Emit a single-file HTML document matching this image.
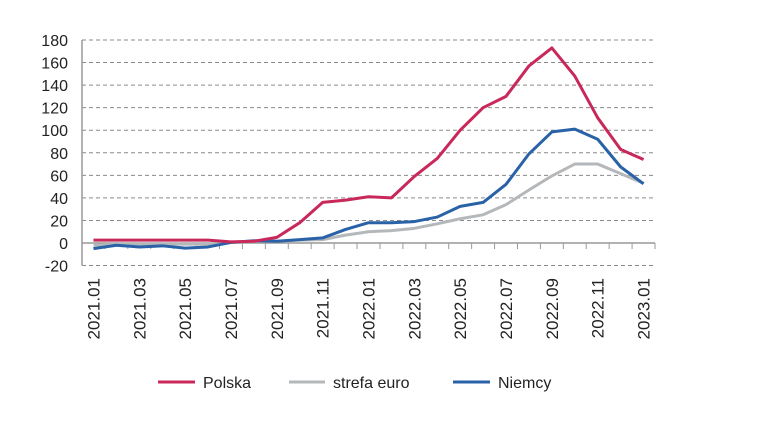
<!DOCTYPE html>
<html><head><meta charset="utf-8"><style>
body{margin:0;background:#fff;font-family:"Liberation Sans",Arial,sans-serif}
svg{display:block}
</style></head><body>
<svg id="chart" width="757" height="422">
<g id="grid"></g>
<g id="yl"></g>
<g id="xl"></g>
<g id="series"></g>
<g font-size="16" fill="#222">
<g><line x1="158" y1="382" x2="195" y2="382" stroke="#c8285a" stroke-width="3"/><text x="203" y="388">Polska</text></g>
<g><line x1="289" y1="382" x2="325" y2="382" stroke="#b5b8ba" stroke-width="3"/><text x="333" y="388">strefa euro</text></g>
<g><line x1="453" y1="382" x2="490" y2="382" stroke="#2a62a8" stroke-width="3"/><text x="498" y="388">Niemcy</text></g>
</g>
</svg>
<script>
const categories=["2021.01","2021.02","2021.03","2021.04","2021.05","2021.06","2021.07","2021.08","2021.09","2021.10","2021.11","2021.12","2022.01","2022.02","2022.03","2022.04","2022.05","2022.06","2022.07","2022.08","2022.09","2022.10","2022.11","2022.12","2023.01"];
const polska=[2.5,2.5,2.5,2.5,2.5,2.5,1,1.5,5,18,36,38,41,40,59,75,100,120,130,157,173,148,111,83,74];
const strefaEuro=[-2,-1,-1,-1,-1,-1,0.5,1.5,1.5,2.5,3,7,10,11,13,17,21.5,25,34,47,59.5,70,70,61.5,53];
const niemcy=[-5,-2,-3.5,-2.5,-4.5,-3.5,0.5,2,1.5,3,4.5,12,18,18,19,23,32.5,36,52,79,98.5,101,92,67.5,52.5];
const yTicks=[-20,0,20,40,60,80,100,120,140,160,180];
const NS="http://www.w3.org/2000/svg";
const X0=82,X1=655,Y0=243,PX=(243-40)/180;
const bw=(X1-X0)/categories.length;
function x(i){return X0+bw*(i+0.5);}
function y(v){return Y0-v*PX;}
function mk(t,a,p){const e=document.createElementNS(NS,t);for(const k in a)e.setAttribute(k,a[k]);p.appendChild(e);return e;}
const grid=document.getElementById('grid'),yl=document.getElementById('yl'),xl=document.getElementById('xl'),ser=document.getElementById('series');
yTicks.forEach(v=>{
 if(v!==0){const g=mk('line',{x1:X0,x2:X1,y1:y(v),y2:y(v),stroke:'#8a8a8a','stroke-dasharray':'4,3','stroke-width':1},grid);
 
 }
 const t=mk('text',{x:68,y:y(v)+6,'text-anchor':'end','font-size':16,fill:'#222'},yl);t.textContent=v;
 
 
});
mk('line',{x1:X0,x2:X0,y1:y(180),y2:y(-20),stroke:'#999','stroke-width':1.5},grid);
mk('line',{x1:X0,x2:X1,y1:Y0,y2:Y0,stroke:'#999','stroke-width':1.5},grid);
for(let i=0;i<=categories.length;i++){mk('line',{x1:X0+bw*i,x2:X0+bw*i,y1:Y0,y2:Y0+6,stroke:'#999'},grid);}
categories.forEach((c,i)=>{if(i%2)return;
 const t=mk('text',{transform:`translate(${x(i)+6},278) rotate(-90)`,'text-anchor':'end','font-size':17,fill:'#222'},xl);t.textContent=c;
 
 
});
[[strefaEuro,'#b5b8ba','line-strefa-euro'],[niemcy,'#2a62a8','line-niemcy'],[polska,'#c8285a','line-polska']].forEach(([d,c,n])=>{
 const p=mk('polyline',{points:d.map((v,i)=>x(i)+','+y(v)).join(' '),fill:'none',stroke:c,'stroke-width':3,'stroke-linejoin':'round'},ser);
 
 
});
</script>
</body></html>
